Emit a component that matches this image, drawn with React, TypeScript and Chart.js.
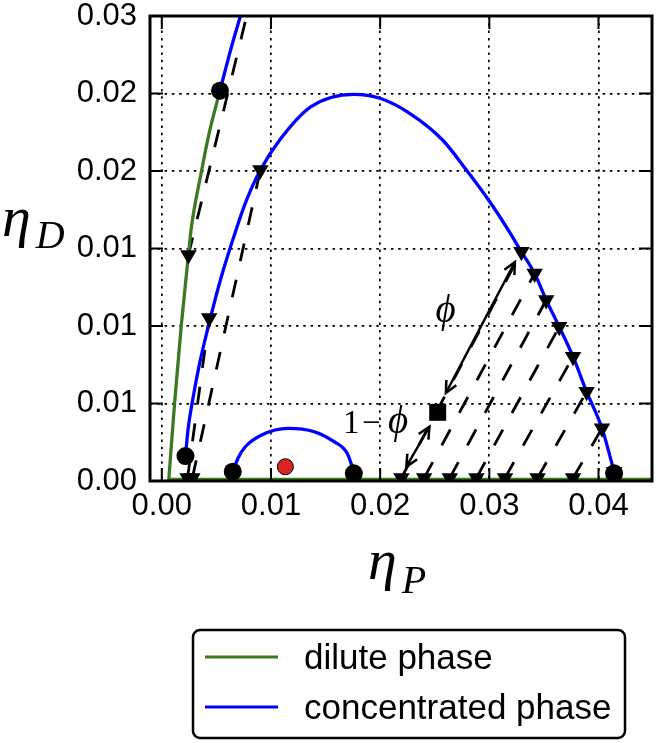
import React, { useEffect, useRef } from 'react';
import { Chart, registerables } from 'chart.js';

Chart.register(...registerables);

// ---- axis ticks ----
const xTickValues = [0, 0.01, 0.02, 0.03, 0.04];
const xTickLabels = ['0.00', '0.01', '0.02', '0.03', '0.04'];
const yTickValues = [0, 0.005, 0.01, 0.015, 0.02, 0.025, 0.03];
const yTickLabels = ['0.00', '0.01', '0.01', '0.01', '0.02', '0.02', '0.03'];

// ---- dilute phase branches ----
const diluteLeftX = [0.00063, 0.00117, 0.00178, 0.00244, 0.00268, 0.00364, 0.00434, 0.00533];
const diluteLeftY = [0.0, 0.005, 0.01, 0.01458, 0.0162, 0.02, 0.02245, 0.02518];
const diluteBottomX = [0.00063, 0.045];
const diluteBottomY = [0.0001, 0.0001];

// ---- concentrated phase branches ----
const concUpperX = [0.00533, 0.0063, 0.0072, 0.0078];
const concUpperY = [0.02518, 0.0278, 0.03, 0.0315];
const concArchX = [0.00217, 0.0024, 0.00277, 0.00343, 0.00427, 0.00542, 0.0068, 0.00777, 0.00903, 0.0108, 0.01367, 0.01759, 0.01999, 0.0227, 0.02572, 0.02797, 0.02993, 0.03174, 0.03294, 0.03415, 0.03521, 0.0364, 0.03767, 0.03891, 0.04032, 0.04143];
const concArchY = [0.00161, 0.0033, 0.005, 0.00748, 0.01, 0.0131, 0.0162, 0.01813, 0.02006, 0.022, 0.02415, 0.02495, 0.02469, 0.02372, 0.022, 0.02, 0.01813, 0.01619, 0.01479, 0.01339, 0.01168, 0.00995, 0.00802, 0.00576, 0.0034, 0.0006];
const concSmallX = [0.0065, 0.0070, 0.00765, 0.00915, 0.01156, 0.01397, 0.01578, 0.01698, 0.01759];
const concSmallY = [0.0006, 0.0015, 0.00221, 0.00297, 0.0034, 0.00318, 0.00254, 0.00179, 0.0006];

// ---- tie lines (dilute end -> concentrated end) ----
const tieStartX = [0.00244, 0.00236, 0.0028, 0.02195, 0.02403, 0.02638, 0.02882, 0.03144, 0.03442, 0.03767, 0.04137];
const tieStartY = [0.01458, 0.0002, 0.0002, 0.0002, 0.0002, 0.0002, 0.0002, 0.0002, 0.0002, 0.0002, 0.0002];
const tieEndX = [0.00915, 0.00434, 0.00903, 0.03294, 0.03415, 0.03521, 0.0364, 0.03767, 0.03891, 0.04032, 0.04143];
const tieEndY = [0.034, 0.01052, 0.02006, 0.01479, 0.01339, 0.01168, 0.00995, 0.00802, 0.00576, 0.0034, 0.0006];

// ---- special points ----
const dotX = [0.00533, 0.00217, 0.0065, 0.01759, 0.04143];
const dotY = [0.02518, 0.00161, 0.0006, 0.0005, 0.0005];
const criticalX = [0.01132];
const criticalY = [0.00092];
const mixtureX = [0.02527];
const mixtureY = [0.00443];

// ---- lever-rule arrows ----
const arrowX1 = [0.03234, 0.02451];
const arrowY1 = [0.01413, 0.0035];
const arrowX2 = [0.02602, 0.0224];
const arrowY2 = [0.00568, 0.00092];

// ---- labels ----
const legendLabels = ['dilute phase', 'concentrated phase'];
const phiLabelX = 0.02600;
const phiLabelY = 0.01026;
const oneMinusPhiX = 0.01660;
const oneMinusPhiY = 0.0031;

const GREEN = '#3b7a1f';
const BLUE = '#0000ff';
const SANS = "'Liberation Sans', Arial, sans-serif";
const SERIF = "'Liberation Serif', 'DejaVu Serif', serif";

const pts = (xs: number[], ys: number[]) => xs.map((x, i) => ({ x, y: ys[i] }));

function drawArrowHead(ctx: CanvasRenderingContext2D, tx: number, ty: number, fx: number, fy: number) {
  const ang = Math.atan2(ty - fy, tx - fx);
  const L = 13;
  const a = Math.PI / 7;
  ctx.beginPath();
  ctx.moveTo(tx - L * Math.cos(ang - a), ty - L * Math.sin(ang - a));
  ctx.lineTo(tx, ty);
  ctx.lineTo(tx - L * Math.cos(ang + a), ty - L * Math.sin(ang + a));
  ctx.stroke();
}

const decorPlugin = {
  id: 'decor',
  afterDatasetsDraw(chart: any) {
    const { ctx, chartArea: a, scales } = chart;
    const sx = scales.x;
    const sy = scales.y;
    ctx.save();
    // arrows
    ctx.strokeStyle = '#000';
    ctx.lineWidth = 2.5;
    for (let i = 0; i < arrowX1.length; i++) {
      const x1 = sx.getPixelForValue(arrowX1[i]);
      const y1 = sy.getPixelForValue(arrowY1[i]);
      const x2 = sx.getPixelForValue(arrowX2[i]);
      const y2 = sy.getPixelForValue(arrowY2[i]);
      ctx.beginPath();
      ctx.moveTo(x1, y1);
      ctx.lineTo(x2, y2);
      ctx.stroke();
      drawArrowHead(ctx, x1, y1, x2, y2);
      drawArrowHead(ctx, x2, y2, x1, y1);
    }
    // phi labels
    ctx.fillStyle = '#000';
    ctx.textBaseline = 'alphabetic';
    ctx.font = `italic 39px ${SERIF}`;
    ctx.textAlign = 'center';
    ctx.fillText('\u03D5', sx.getPixelForValue(phiLabelX), sy.getPixelForValue(phiLabelY));
    ctx.textAlign = 'left';
    const ox = sx.getPixelForValue(oneMinusPhiX);
    const oy = sy.getPixelForValue(oneMinusPhiY);
    ctx.font = `33px ${SERIF}`;
    ctx.fillText('1', ox, oy);
    ctx.fillText('\u2212', ox + 19, oy);
    ctx.font = `italic 39px ${SERIF}`;
    ctx.fillText('\u03D5', ox + 45, oy);
    // frame
    ctx.lineWidth = 3;
    ctx.strokeRect(a.left, a.top, a.right - a.left, a.bottom - a.top);
    // inward ticks
    ctx.lineWidth = 2;
    const TL = 13;
    ctx.beginPath();
    for (const v of xTickValues) {
      const p = sx.getPixelForValue(v);
      ctx.moveTo(p, a.bottom); ctx.lineTo(p, a.bottom - TL);
      ctx.moveTo(p, a.top); ctx.lineTo(p, a.top + TL);
    }
    for (const v of yTickValues) {
      const p = sy.getPixelForValue(v);
      ctx.moveTo(a.left, p); ctx.lineTo(a.left + TL, p);
      ctx.moveTo(a.right, p); ctx.lineTo(a.right - TL, p);
    }
    ctx.stroke();
    ctx.restore();
  },
  afterDraw(chart: any) {
    const { ctx } = chart;
    ctx.save();
    ctx.fillStyle = '#000';
    // axis titles
    const drawEta = (x: number, base: number, sub: string, subBase: number) => {
      ctx.textAlign = 'left';
      ctx.textBaseline = 'alphabetic';
      ctx.font = `italic 58px ${SERIF}`;
      ctx.fillText('\u03B7', x, base);
      const w = ctx.measureText('\u03B7').width;
      ctx.font = `italic 40px ${SERIF}`;
      ctx.fillText(sub, x + w + 5, subBase);
    };
    drawEta(2, 236, 'D', 248);
    drawEta(368, 579, 'P', 593);
    // legend
    const bx = 193, by = 630, bw = 432, bh = 108, r = 7;
    ctx.lineWidth = 2.5;
    ctx.strokeStyle = '#000';
    ctx.beginPath();
    ctx.moveTo(bx + r, by);
    ctx.arcTo(bx + bw, by, bx + bw, by + bh, r);
    ctx.arcTo(bx + bw, by + bh, bx, by + bh, r);
    ctx.arcTo(bx, by + bh, bx, by, r);
    ctx.arcTo(bx, by, bx + bw, by, r);
    ctx.closePath();
    ctx.fillStyle = '#fff';
    ctx.fill();
    ctx.stroke();
    const items = legendLabels.map((lab) => chart.data.datasets.find((d: any) => d.label === lab));
    items.forEach((ds: any, i: number) => {
      const yy = 657 + i * 50;
      ctx.strokeStyle = ds.borderColor;
      ctx.lineWidth = 3;
      ctx.beginPath();
      ctx.moveTo(205, yy);
      ctx.lineTo(278, yy);
      ctx.stroke();
      ctx.fillStyle = '#000';
      ctx.font = `35px ${SANS}`;
      ctx.textAlign = 'left';
      ctx.textBaseline = 'middle';
      ctx.fillText(ds.label, 304, yy + 2);
    });
    ctx.restore();
  },
};

export default function App() {
  const ref = useRef<HTMLCanvasElement | null>(null);
  useEffect(() => {
    if (!ref.current) return;
    const curve = (label: string | undefined, xs: number[], ys: number[], color: string) => ({
      label,
      data: pts(xs, ys),
      showLine: true,
      borderColor: color,
      backgroundColor: color,
      borderWidth: 3.3,
      pointRadius: 0,
      cubicInterpolationMode: 'monotone',
      fill: false,
    });
    const ties = tieStartX.map((_, i) => ({
      data: [{ x: tieStartX[i], y: tieStartY[i] }, { x: tieEndX[i], y: tieEndY[i] }],
      showLine: true,
      borderColor: '#000',
      borderWidth: 2.8,
      borderDash: [18, 19],
      pointRadius: 0,
      tension: 0,
    }));
    const triX = [...tieStartX, ...tieEndX];
    const triY = [...tieStartY, ...tieEndY];
    const datasets: any[] = [
      { data: pts(mixtureX, mixtureY), pointStyle: 'rect', pointRadius: 12, backgroundColor: '#000', borderColor: '#000', borderWidth: 0, showLine: false },
      { data: pts(criticalX, criticalY), pointStyle: 'circle', pointRadius: 8, backgroundColor: '#d92525', borderColor: '#000', borderWidth: 1, showLine: false },
      { data: pts(dotX, dotY), pointStyle: 'circle', pointRadius: 9, backgroundColor: '#000', borderColor: '#000', borderWidth: 0, showLine: false },
      { data: pts(triX, triY), pointStyle: 'triangle', rotation: 180, pointRadius: 9.5, backgroundColor: '#000', borderColor: '#000', borderWidth: 0, showLine: false },
      curve('dilute phase', diluteLeftX, diluteLeftY, GREEN),
      curve(undefined, diluteBottomX, diluteBottomY, GREEN),
      curve('concentrated phase', concArchX, concArchY, BLUE),
      curve(undefined, concUpperX, concUpperY, BLUE),
      curve(undefined, concSmallX, concSmallY, BLUE),
      ...ties,
    ];
    const chart = new Chart(ref.current, {
      type: 'scatter',
      data: { datasets },
      plugins: [decorPlugin],
      options: {
        responsive: false,
        animation: false,
        events: [],
        layout: { padding: { left: 0, right: 5, top: 16, bottom: 0 } },
        plugins: { legend: { display: false }, tooltip: { enabled: false } },
        scales: {
          x: {
            type: 'linear',
            min: -0.00108,
            max: 0.0449,
            afterFit: (s: any) => { s.height = 262; s.paddingLeft = 0; s.paddingRight = 0; },
            afterBuildTicks: (s: any) => { s.ticks = xTickValues.map((v) => ({ value: v })); },
            ticks: {
              autoSkip: false,
              maxRotation: 0,
              padding: 7,
              color: '#000',
              font: { family: SANS, size: 31 },
              callback: (_v: any, i: number) => xTickLabels[i],
            },
            grid: { color: '#000', lineWidth: 1.7, drawTicks: false },
            border: { display: false, dash: [2.5, 4.8] },
          },
          y: {
            type: 'linear',
            min: 0,
            max: 0.03,
            afterFit: (s: any) => { s.width = 150; s.paddingTop = 0; s.paddingBottom = 0; },
            afterBuildTicks: (s: any) => { s.ticks = yTickValues.map((v) => ({ value: v })); },
            ticks: {
              autoSkip: false,
              padding: 13,
              color: '#000',
              font: { family: SANS, size: 31 },
              callback: (_v: any, i: number) => yTickLabels[i],
            },
            grid: { color: '#000', lineWidth: 1.7, drawTicks: false },
            border: { display: false, dash: [2.5, 4.8] },
          },
        },
      },
    } as any);
    return () => chart.destroy();
  }, []);
  return (
    <div style={{ position: 'fixed', left: 0, top: 0, width: 664, height: 743, background: '#fff' }}>
      <canvas ref={ref} width={664} height={743} style={{ display: 'block' }} />
    </div>
  );
}
